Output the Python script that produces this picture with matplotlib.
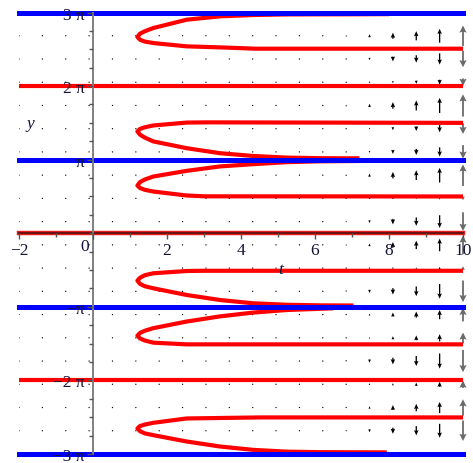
import numpy as np
import matplotlib
matplotlib.use('Agg')
import matplotlib.pyplot as plt

PI = np.pi

# direction field grid, 20 x 20 like Maple's default
t_grid = np.linspace(-2, 10, 20)
y_grid = np.linspace(3 * PI, -3 * PI, 20)   # top row first

# relative arrow size per column
col_size = [0.0] * 12 + [0.03, 0.05, 0.08, 0.15, 0.3, 0.45, 0.68, 1.0]
# signed slope per row, top row first (+ = arrow up)
row_slope = [0.0, 0.92, -0.74, -0.33, 1.0, -0.48, -0.61, 0.97, -0.17, -0.84,
             0.84, 0.17, -0.97, 0.61, 0.48, -1.0, 0.33, 0.74, -0.92, 0.0]

# equilibrium lines, in units of pi
blue_levels = [3, 1, -1, -3]
red_levels = [2, -2]

# solution curves: t values and y/pi values
c1_t = [8.0, 7.04, 6.14, 5.24, 4.33, 3.43, 2.53, 1.63, 1.4, 1.27, 1.2, 1.27, 1.4, 1.63, 2.53, 3.43, 4.4, 10.0]
c1_y = [2.978, 2.976, 2.975, 2.974, 2.966, 2.948, 2.902, 2.789, 2.745, 2.712, 2.667, 2.63, 2.605, 2.585, 2.54, 2.526, 2.508, 2.508]

c2_t = [10.0, 3.1, 2.53, 1.63, 1.4, 1.27, 1.2, 1.27, 1.4, 1.63, 2.53, 3.43, 4.33, 5.24, 6.14, 7.2]
c2_y = [1.50, 1.507, 1.504, 1.465, 1.44, 1.418, 1.384, 1.34, 1.3, 1.248, 1.156, 1.088, 1.05, 1.028, 1.02, 1.018]

c3_t = [7.2, 6.14, 5.24, 4.33, 3.43, 2.53, 1.63, 1.4, 1.27, 1.2, 1.27, 1.4, 1.63, 2.53, 3.0, 10.0]
c3_y = [0.982, 0.978, 0.966, 0.939, 0.908, 0.848, 0.771, 0.73, 0.695, 0.649, 0.615, 0.59, 0.567, 0.513, 0.502, 0.50]

c4_t = [10.0, 3.0, 2.53, 1.63, 1.4, 1.27, 1.2, 1.27, 1.4, 1.63, 2.53, 3.43, 4.33, 5.24, 6.14, 7.04]
c4_y = [-0.51, -0.51, -0.513, -0.544, -0.57, -0.605, -0.644, -0.688, -0.72, -0.748, -0.839, -0.907, -0.952, -0.972, -0.98, -0.982]

c5_t = [6.5, 5.24, 4.33, 3.43, 2.53, 1.63, 1.4, 1.27, 1.2, 1.27, 1.4, 1.63, 2.53, 10.0]
c5_y = [-1.02, -1.043, -1.078, -1.13, -1.20, -1.29, -1.325, -1.355, -1.392, -1.43, -1.458, -1.487, -1.51, -1.51]

c6_t = [10.0, 4.5, 2.53, 1.63, 1.4, 1.27, 1.2, 1.27, 1.4, 1.63, 2.53, 3.43, 4.33, 5.24, 6.14, 7.94]
c6_y = [-2.503, -2.503, -2.517, -2.576, -2.6, -2.62, -2.653, -2.69, -2.72, -2.744, -2.83, -2.898, -2.944, -2.968, -2.975, -2.978]

curves = [(c1_t, c1_y), (c2_t, c2_y), (c3_t, c3_y),
          (c4_t, c4_y), (c5_t, c5_y), (c6_t, c6_y)]

x_ticks = [-2, 0, 2, 4, 6, 8, 10]
x_labels = ['\u22122', '', '2', '4', '6', '8', '10']
y_ticks = [3, 2, 1, -1, -2, -3]
y_labels = ['3 \u03c0', '2 \u03c0', '\u03c0', '\u2212\u03c0', '\u22122 \u03c0', '\u22123 \u03c0']

label_color = '#14143a'
serif = ['Liberation Serif', 'DejaVu Serif']
fs = 12.5

fig = plt.figure(figsize=(4.73, 4.64), dpi=100)
ax = fig.add_axes([19 / 473, 9 / 464, 444 / 473, 441.5 / 464])
ax.set_xlim(-2, 10)
ax.set_ylim(-3 * PI, 3 * PI)

# arrows
X, Y = np.meshgrid(t_grid, y_grid)
V = np.outer(row_slope, col_size) * 0.95
U = np.zeros_like(V)
qkw = dict(angles='xy', scale_units='xy', scale=1, pivot='middle',
           units='dots', minlength=1.1, zorder=2)
ax.quiver(X[:, :19], Y[:, :19], U[:, :19], V[:, :19], color='black',
          width=1.3, headwidth=3.5, headlength=4, headaxislength=3.5, **qkw)
ax.quiver(X[:, 19:], Y[:, 19:], U[:, 19:], V[:, 19:], color='#6a6a6a',
          width=1.8, headwidth=4, headlength=4, headaxislength=3.5,
          clip_on=False, **qkw)

# solution curves
for ct, cy in curves:
    ax.plot(ct, np.array(cy) * PI, color='#ff0000', lw=3.0,
            solid_joinstyle='round', solid_capstyle='butt', zorder=3)

for lv in red_levels:
    ax.plot([-2, 10], [lv * PI, lv * PI], color='#ff0000', lw=3.0, zorder=3)
ax.plot([-2, 10], [0, 0], color='#ff2020', lw=3.2, zorder=3, clip_on=False)
ax.plot([-2, 10], [0, 0], color='#6e1010', lw=1.7, zorder=3.1, clip_on=False)
for lv in blue_levels:
    ax.plot([-2, 10], [lv * PI, lv * PI], color='#0000ff', lw=3.6,
            zorder=4, clip_on=False)

# axes through the origin
for s in ['top', 'right']:
    ax.spines[s].set_visible(False)
ax.spines['left'].set_position(('data', 0))
ax.spines['bottom'].set_position(('data', 0))
ax.spines['left'].set_color('#808080')
ax.spines['left'].set_linewidth(1.4)
ax.spines['left'].set_zorder(5)
ax.spines['bottom'].set_color('#6e1010')
ax.spines['bottom'].set_linewidth(1.0)
ax.xaxis.set_zorder(6)
ax.yaxis.set_zorder(6)

ax.set_xticks(x_ticks)
ax.set_xticklabels(x_labels)
ax.set_xticks(range(-1, 10, 2), minor=True)
ax.set_yticks([v * PI for v in y_ticks])
ax.set_yticklabels(y_labels)
ax.set_yticks(np.arange(-12, 13) * PI / 4, minor=True)
ax.tick_params(which='both', direction='out', color='#555555', width=1.0,
               labelcolor=label_color, labelsize=fs, pad=2)
ax.tick_params(which='major', length=4)
ax.tick_params(which='minor', length=3)
for lab in ax.get_xticklabels() + ax.get_yticklabels():
    lab.set_family(serif)

ax.text(-0.12, -0.2, '0', ha='right', va='top', fontsize=fs,
        color=label_color, family=serif, zorder=6)
ax.text(-1.70, 1.50 * PI, 'y', ha='center', va='center', fontsize=fs,
        style='italic', color=label_color, family=serif)
ax.text(5.08, -0.48 * PI, 't', ha='center', va='center', fontsize=fs,
        style='italic', color=label_color, family=serif)

fig.savefig('out.png', dpi=100)
